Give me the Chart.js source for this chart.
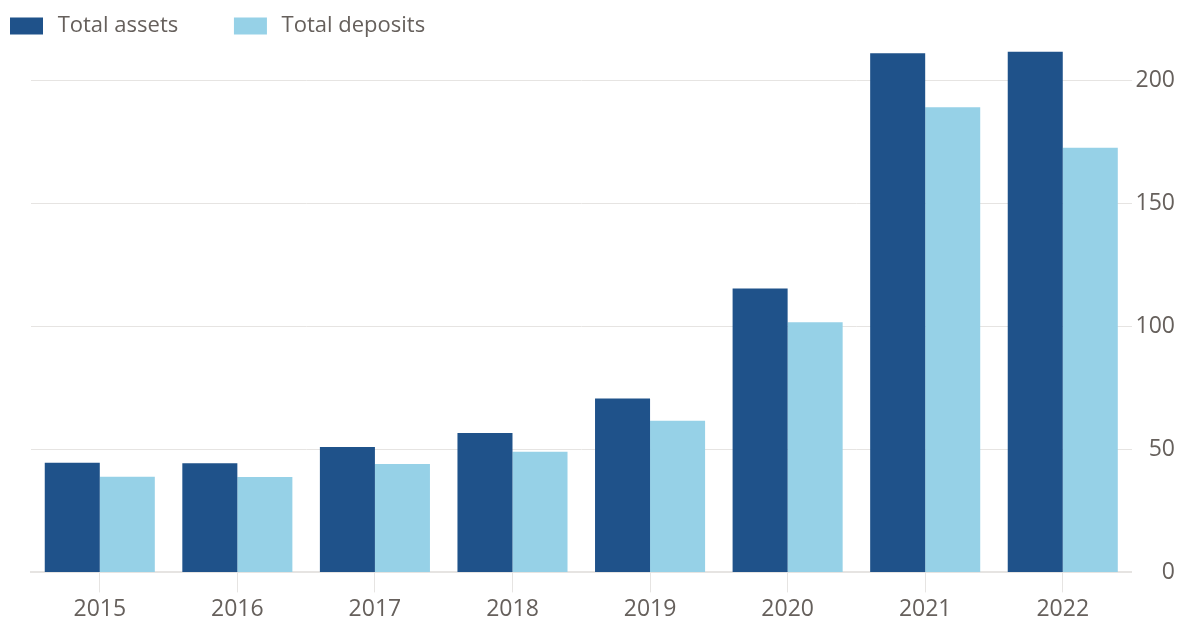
<!DOCTYPE html>
<html>
<head>
<meta charset="utf-8">
<script src="https://cdn.jsdelivr.net/npm/chart.js"></script>
<style>
  html, body { margin: 0; padding: 0; background: #fff; }
  #wrap { width: 1189px; height: 623px; }
</style>
</head>
<body>
<div id="wrap"><canvas id="myChart" width="1189" height="623"></canvas></div>
<script>
// Data
const years = ['2015', '2016', '2017', '2018', '2019', '2020', '2021', '2022'];
const totalAssets = [44.6, 44.4, 51, 56.6, 70.7, 115.4, 211, 211.6];
const totalDeposits = [38.9, 38.8, 44, 49, 61.6, 101.6, 189, 172.6];
const yTicks = [0, 50, 100, 150, 200];

const darkBlue = '#1f528a';
const lightBlue = '#96d1e7';
const textGrey = '#66605c';
const gridGrey = '#e6e4e2';

Chart.defaults.font.family = "'Open Sans', sans-serif";
Chart.defaults.font.size = 22;
Chart.defaults.color = textGrey;

const ctx = document.getElementById('myChart').getContext('2d');
new Chart(ctx, {
  type: 'bar',
  data: {
    labels: years,
    datasets: [
      { label: 'Total assets', data: totalAssets, backgroundColor: darkBlue, yAxisID: 'y' },
      { label: 'Total deposits', data: totalDeposits, backgroundColor: lightBlue, yAxisID: 'y' }
    ]
  },
  options: {
    responsive: false,
    animation: false,
    layout: { padding: { left: 0, right: 14, top: 5, bottom: -3 } },
    datasets: {
      bar: { barPercentage: 1.0, categoryPercentage: 0.8 }
    },
    plugins: {
      tooltip: { enabled: false },
      legend: {
        position: 'top',
        align: 'start',
        labels: {
          boxWidth: 33,
          boxHeight: 17,
          padding: 10,
          color: textGrey,
          font: { size: 22 },
          // thin space before and trailing spaces after, for the item gaps
          generateLabels: (chart) => {
            const items = Chart.defaults.plugins.legend.labels.generateLabels(chart);
            items.forEach(it => { it.text = '\u2009' + it.text + '        '; it.lineWidth = 0; });
            return items;
          }
        }
      }
    },
    scales: {
      x: {
        offset: true,
        grid: {
          offset: false,
          drawOnChartArea: false,
          drawTicks: true,
          tickLength: 20,
          color: gridGrey
        },
        border: { color: gridGrey, width: 2 },
        ticks: { padding: 3, color: textGrey, font: { size: 23 } }
      },
      y: {
        position: 'right',
        min: 0,
        max: 213.5,
        afterBuildTicks: (scale) => {
          scale.ticks = yTicks.map(v => ({ value: v }));
        },
        grid: { color: gridGrey, drawTicks: false },
        border: { display: false },
        ticks: { padding: 2, crossAlign: 'far', color: textGrey, font: { size: 23 } }
      },
      // empty left axis, only keeps the plot 31px from the left edge
      left: {
        position: 'left',
        display: true,
        grid: { display: false },
        border: { display: false },
        ticks: { display: false },
        afterFit: (scale) => { scale.width = 31; }
      }
    }
  }
});
</script>
</body>
</html>
